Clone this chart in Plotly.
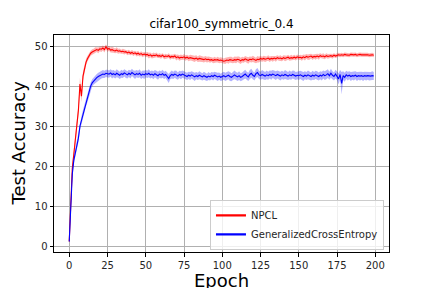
import plotly.graph_objects as go

title_text = "cifar100_symmetric_0.4"
x_label = "Epoch"
y_label = "Test Accuracy"
series_names = ["NPCL", "GeneralizedCrossEntropy"]
x_ticks = [0, 25, 50, 75, 100, 125, 150, 175, 200]
y_ticks = [0, 10, 20, 30, 40, 50]

epochs = list(range(200))

npcl_mean = [
    1.2, 10.5, 19.5, 23.0, 26.5, 30.0, 34.0, 40.5, 37.5, 42.5,
    44.5, 46.0, 46.9, 47.6, 48.2, 48.5, 48.7, 49.0, 49.1, 48.9,
    49.3, 49.2, 49.5, 49.1, 49.8, 49.2, 49.4, 49.0, 49.1, 48.9,
    48.8, 49.0, 48.7, 48.8, 48.6, 48.7, 48.5, 48.6, 48.3, 48.5,
    48.2, 48.4, 48.1, 48.3, 48.0, 48.2, 47.9, 48.1, 47.8, 48.0,
    47.8, 47.9, 47.6, 47.8, 47.5, 47.7, 47.6, 47.8, 47.5, 47.6,
    47.4, 47.7, 47.3, 47.5, 47.4, 47.6, 47.2, 47.4, 47.3, 47.5,
    47.1, 47.3, 47.0, 47.2, 47.1, 47.3, 47.0, 47.2, 46.9, 47.1,
    47.0, 46.9, 46.8, 47.0, 46.7, 46.9, 46.8, 46.7, 46.6, 46.8,
    46.6, 46.7, 46.5, 46.6, 46.4, 46.6, 46.5, 46.6, 46.4, 46.5,
    46.4, 46.2, 46.3, 46.5, 46.4, 46.6, 46.5, 46.4, 46.6, 46.5,
    46.7, 46.6, 46.3, 46.6, 46.5, 46.8, 46.6, 46.4, 46.7, 46.6,
    46.8, 46.6, 46.4, 46.7, 46.6, 46.9, 46.7, 46.9, 46.7, 46.8,
    47.0, 46.7, 46.9, 46.8, 47.0, 46.8, 47.1, 46.9, 47.0, 46.8,
    47.1, 46.9, 47.0, 47.2, 46.9, 47.1, 47.0, 47.2, 47.0, 47.3,
    47.1, 47.2, 47.0, 47.3, 47.1, 47.4, 47.2, 47.3, 47.5, 47.2,
    47.4, 47.3, 47.5, 47.3, 47.6, 47.4, 47.5, 47.3, 47.6, 47.4,
    47.5, 47.6, 47.4, 47.7, 47.5, 47.6, 47.8, 47.7, 47.8, 47.7,
    47.9, 47.8, 47.8, 47.7, 47.9, 47.8, 47.8, 47.9, 47.7, 47.8,
    47.9, 47.8, 47.8, 47.9, 47.8, 47.8, 47.7, 47.8, 47.8, 47.7,
]

npcl_spread = [
    0.2, 0.9, 1.3, 1.2, 1.3, 1.2, 1.4, 1.6, 1.5, 1.2,
    1.0, 0.8, 0.7, 0.7, 0.6, 0.7, 0.6, 0.7, 0.6, 0.7,
    0.6, 0.7, 0.6, 0.7, 0.6, 0.7, 0.6, 0.6, 0.7, 0.6,
    0.6, 0.7, 0.6, 0.6, 0.5, 0.6, 0.6, 0.5, 0.6, 0.6,
    0.5, 0.6, 0.6, 0.5, 0.6, 0.6, 0.5, 0.6, 0.6, 0.5,
    0.6, 0.6, 0.7, 0.6, 0.6, 0.7, 0.6, 0.6, 0.5, 0.6,
    0.6, 0.5, 0.6, 0.6, 0.5, 0.6, 0.6, 0.5, 0.6, 0.6,
    0.7, 0.6, 0.7, 0.7, 0.6, 0.7, 0.7, 0.6, 0.7, 0.7,
    0.7, 0.7, 0.8, 0.7, 0.7, 0.8, 0.7, 0.7, 0.7, 0.7,
    0.7, 0.7, 0.7, 0.6, 0.7, 0.7, 0.6, 0.7, 0.7, 0.7,
    0.7, 0.7, 0.8, 0.7, 0.8, 0.7, 0.8, 0.7, 0.8, 0.8,
    0.7, 0.8, 0.8, 0.7, 0.7, 0.7, 0.7, 0.8, 0.7, 0.7,
    0.8, 0.7, 0.7, 0.8, 0.7, 0.7, 0.6, 0.7, 0.7, 0.6,
    0.7, 0.7, 0.6, 0.7, 0.6, 0.7, 0.6, 0.6, 0.7, 0.6,
    0.6, 0.7, 0.6, 0.6, 0.6, 0.7, 0.6, 0.6, 0.6, 0.6,
    0.6, 0.6, 0.7, 0.6, 0.7, 0.6, 0.7, 0.7, 0.6, 0.7,
    0.6, 0.7, 0.6, 0.7, 0.6, 0.6, 0.7, 0.6, 0.6, 0.6,
    0.6, 0.5, 0.6, 0.5, 0.5, 0.5, 0.5, 0.5, 0.5, 0.5,
    0.5, 0.5, 0.5, 0.5, 0.5, 0.5, 0.5, 0.5, 0.5, 0.5,
    0.5, 0.5, 0.5, 0.5, 0.5, 0.5, 0.5, 0.5, 0.5, 0.5,
]

gce_mean = [
    1.2, 9.5, 18.0, 21.5, 23.5, 25.0, 27.0, 30.0, 31.5, 33.0,
    34.5, 36.0, 37.0, 38.5, 40.0, 40.8, 41.3, 41.7, 42.1, 42.4,
    42.6, 42.8, 43.0, 42.9, 43.2, 43.1, 43.0, 43.3, 42.9, 43.1,
    42.8, 43.2, 43.0, 42.7, 43.1, 42.9, 43.3, 43.0, 42.8, 43.2,
    42.9, 43.4, 43.0, 42.8, 43.1, 42.9, 43.2, 42.7, 43.0, 42.8,
    43.1, 42.9, 43.2, 42.8, 43.0, 42.7, 43.1, 42.9, 42.6, 43.0,
    42.8, 43.1, 42.7, 42.9, 42.5, 41.9, 42.6, 42.9, 42.7, 43.0,
    42.8, 42.5, 42.9, 42.7, 43.0, 42.8, 42.6, 42.4, 42.7, 42.5,
    42.8, 42.6, 42.3, 42.6, 42.4, 42.7, 42.5, 42.3, 42.6, 42.4,
    42.2, 42.5, 42.3, 42.6, 42.4, 42.7, 42.5, 42.3, 42.5, 42.2,
    42.4, 42.6, 42.3, 42.5, 42.7, 42.4, 42.2, 42.5, 42.8, 42.5,
    42.3, 42.6, 42.2, 42.4, 42.7, 43.0, 42.6, 42.3, 42.9, 43.2,
    42.7, 42.4, 43.1, 43.4, 42.8, 42.6, 42.9, 42.7, 42.5, 42.8,
    42.6, 42.9, 42.7, 43.0, 42.8, 42.6, 42.9, 42.7, 42.5, 42.8,
    42.6, 42.9, 42.7, 42.5, 42.8, 42.6, 42.9, 42.7, 42.5, 42.7,
    42.6, 42.8, 42.6, 42.4, 42.7, 42.5, 42.8, 42.6, 42.4, 42.7,
    42.5, 42.8, 42.6, 42.4, 42.7, 42.5, 42.9, 42.6, 42.8, 43.1,
    42.6, 43.2, 42.7, 42.4, 43.0, 42.5, 41.8, 42.9, 40.7, 42.6,
    42.2, 42.8, 42.5, 42.7, 42.4, 42.6, 42.5, 42.7, 42.4, 42.6,
    42.5, 42.6, 42.4, 42.6, 42.5, 42.6, 42.5, 42.5, 42.6, 42.5,
]

gce_spread = [
    0.2, 0.6, 0.9, 0.9, 1.0, 1.1, 1.0, 1.1, 1.0, 1.1,
    1.0, 1.0, 0.9, 1.0, 0.9, 0.9, 0.9, 1.0, 0.9, 0.9,
    0.9, 0.9, 1.0, 0.9, 0.9, 1.0, 0.9, 0.9, 1.0, 0.9,
    0.9, 1.0, 0.9, 0.9, 1.0, 0.9, 0.9, 1.0, 0.9, 0.9,
    1.0, 0.9, 0.9, 1.0, 0.9, 0.9, 1.0, 0.9, 0.9, 1.0,
    0.9, 0.9, 1.0, 0.9, 0.9, 1.0, 0.9, 0.9, 1.0, 0.9,
    0.9, 1.0, 0.9, 0.9, 1.0, 1.1, 0.9, 1.0, 0.9, 0.9,
    1.0, 0.9, 0.9, 1.0, 0.9, 0.9, 1.0, 0.9, 0.9, 1.0,
    0.9, 0.9, 1.0, 0.9, 0.9, 1.0, 0.9, 0.9, 1.0, 0.9,
    0.9, 1.0, 0.9, 0.9, 1.0, 0.9, 0.9, 1.0, 0.9, 0.9,
    1.0, 1.0, 1.0, 1.0, 1.0, 1.1, 1.0, 1.0, 1.1, 1.0,
    1.0, 1.1, 1.0, 1.0, 1.1, 1.1, 1.0, 1.0, 1.1, 1.1,
    1.0, 1.0, 1.1, 1.1, 1.0, 1.0, 1.1, 1.0, 1.0, 1.1,
    1.0, 1.0, 1.1, 1.0, 1.0, 1.1, 1.0, 1.0, 1.1, 1.0,
    1.0, 1.1, 1.0, 1.0, 1.1, 1.0, 1.0, 1.1, 1.0, 1.0,
    1.1, 1.0, 1.0, 1.1, 1.0, 1.0, 1.1, 1.0, 1.0, 1.1,
    1.0, 1.0, 1.1, 1.0, 1.0, 1.1, 1.0, 1.1, 1.1, 1.1,
    1.0, 1.1, 1.0, 1.0, 1.1, 1.0, 1.4, 1.1, 2.8, 1.1,
    1.1, 1.0, 1.1, 1.0, 1.1, 1.0, 1.1, 1.0, 1.1, 1.0,
    1.1, 1.0, 1.1, 1.0, 1.1, 1.0, 1.1, 1.0, 1.1, 1.0,
]

line_colors = ["#ff0000", "#0000ff"]
band_colors = ["rgba(255,0,0,0.3)", "rgba(0,0,255,0.3)"]
FONT = "DejaVu Sans"

fig = go.Figure()
for name, mean, spread, lc, bc in zip(series_names, [npcl_mean, gce_mean],
                                      [npcl_spread, gce_spread], line_colors, band_colors):
    upper = [m + s for m, s in zip(mean, spread)]
    lower = [m - s for m, s in zip(mean, spread)]
    fig.add_trace(go.Scatter(x=epochs, y=lower, mode="lines", line=dict(width=0, color=bc),
                             showlegend=False, hoverinfo="skip"))
    fig.add_trace(go.Scatter(x=epochs, y=upper, mode="lines", line=dict(width=0, color=bc),
                             fill="tonexty", fillcolor=bc, showlegend=False, hoverinfo="skip"))
    fig.add_trace(go.Scatter(x=epochs, y=mean, mode="lines", name=name, showlegend=False,
                             line=dict(width=1.1, color=lc)))

# legend entries (thicker sample lines, as in the reference legend)
for name, lc in zip(series_names, line_colors):
    fig.add_trace(go.Scatter(x=[None], y=[None], mode="lines", name=name,
                             line=dict(width=2.2, color=lc)))

axis_common = dict(
    showgrid=True, gridcolor="#b0b0b0", gridwidth=0.8, zeroline=False,
    showline=True, linecolor="black", linewidth=1, mirror=True,
    ticks="outside", ticklen=3.5, tickwidth=0.8, tickcolor="black",
    tickfont=dict(family=FONT, size=10, color="#262626"),
    automargin=False,
)

# page body has an 8px margin; the figure is offset so the axes land where the reference has them
W, H = 432, 288
ML, MR, MT, MB = 46, 51, 27, 44
PW, PH = W - ML - MR, H - MT - MB

fig.update_layout(
    width=W, height=H,
    margin=dict(l=ML, r=MR, t=MT, b=MB),
    paper_bgcolor="white", plot_bgcolor="white",
    font=dict(family=FONT, color="black"),
    title=dict(text=title_text, x=0.5, xref="paper", xanchor="center",
               y=1 - 16 / H, yref="container", yanchor="middle",
               font=dict(family=FONT, size=12, color="black")),
    xaxis=dict(range=[-9.95, 208.95], tickvals=x_ticks, **axis_common),
    yaxis=dict(range=[-1.4, 52.75], tickvals=y_ticks, **axis_common),
    legend=dict(x=0.985, y=0.01, xanchor="right", yanchor="bottom",
                traceorder="normal",
                bgcolor="rgba(255,255,255,0.8)", bordercolor="#cccccc", borderwidth=1,
                font=dict(family=FONT, size=10, color="#262626"),
                tracegroupgap=0, itemwidth=30),
    showlegend=True,
    annotations=[
        dict(text=x_label, xref="paper", yref="paper", x=0.5, y=-(272 - (H - MB)) / PH,
             xanchor="center", yanchor="middle", showarrow=False,
             font=dict(family=FONT, size=18, color="black")),
        dict(text=y_label, xref="paper", yref="paper", x=-(ML - 10) / PW, y=0.5,
             xanchor="center", yanchor="middle", showarrow=False, textangle=-90,
             font=dict(family=FONT, size=18, color="black")),
    ],
)

fig.write_html("out.html")
